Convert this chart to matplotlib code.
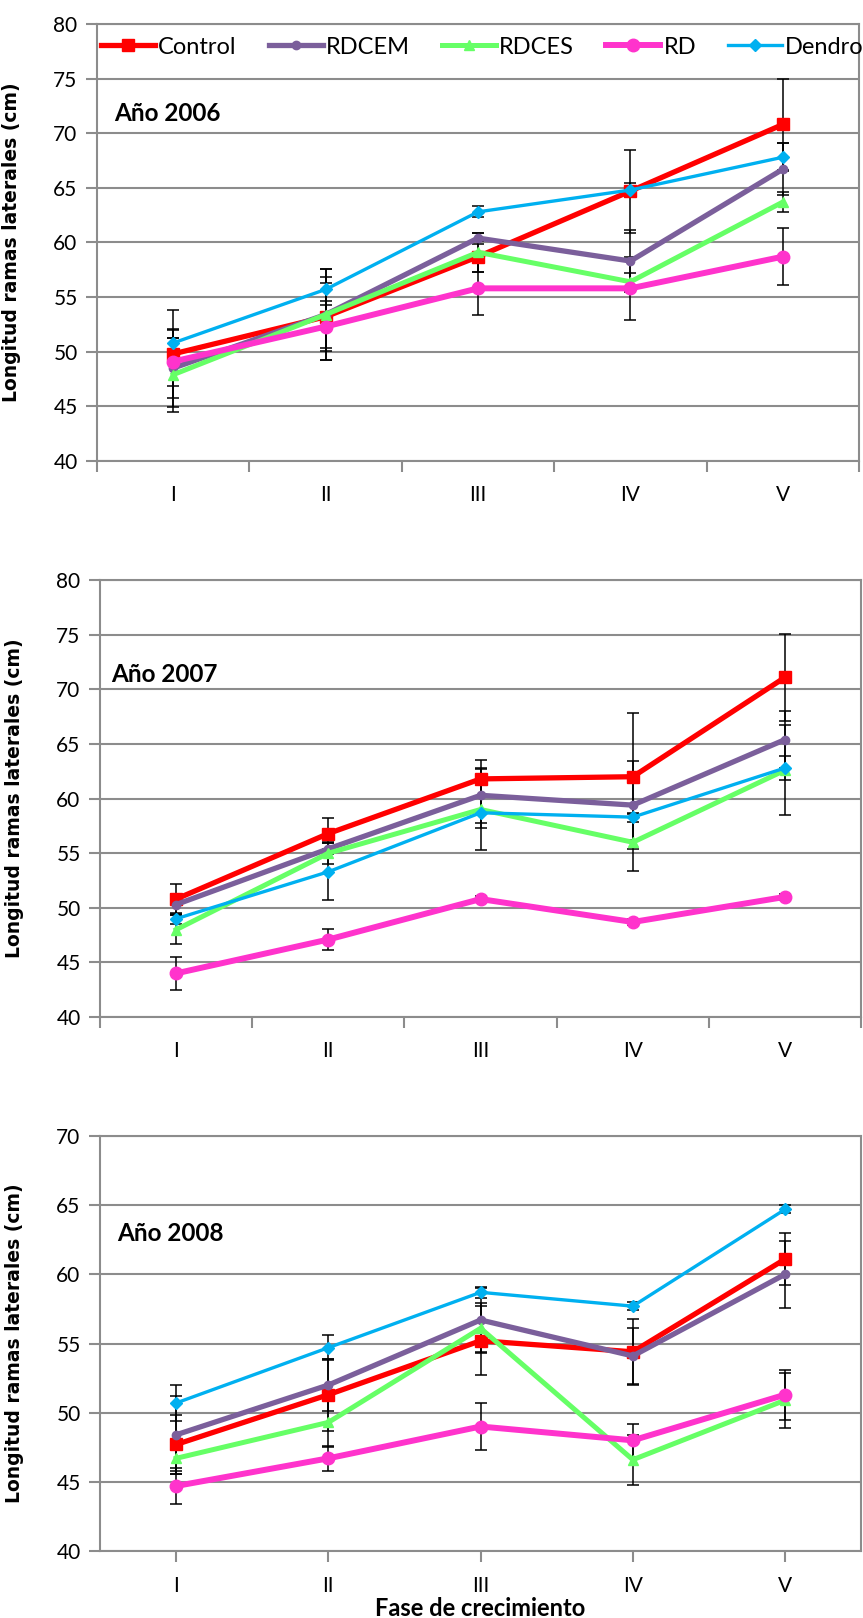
import numpy as np
import matplotlib
matplotlib.use("Agg")
import matplotlib.pyplot as plt

# Datos
fases = ['I', 'II', 'III', 'IV', 'V']
series = ['Control', 'RDCEM', 'RDCES', 'RD', 'Dendro']

# Año 2006
control_06 = [49.8, 53.2, 58.7, 64.7, 70.8]
rdcem_06 = [48.5, 53.4, 60.4, 58.3, 66.7]
rdces_06 = [47.9, 53.4, 59.1, 56.4, 63.7]
rd_06 = [49.1, 52.3, 55.8, 55.8, 58.7]
dendro_06 = [50.8, 55.7, 62.8, 64.8, 67.8]
err_control_06 = [4.0, 3.1, 1.4, 3.8, 4.2]
err_rdcem_06 = [3.6, 4.2, 0.5, 2.8, 2.4]
err_rdces_06 = [3.4, 4.2, 1.8, 0.8, 0.9]
err_rd_06 = [2.2, 2.0, 2.4, 2.9, 2.6]
err_dendro_06 = [1.2, 1.1, 0.5, 0.6, 1.3]

# Año 2007
control_07 = [50.8, 56.8, 61.8, 62.0, 71.1]
rdcem_07 = [50.3, 55.4, 60.3, 59.4, 65.4]
rdces_07 = [48.0, 55.0, 59.0, 56.0, 62.6]
rd_07 = [44.0, 47.1, 50.8, 48.7, 51.0]
dendro_07 = [49.0, 53.3, 58.7, 58.3, 62.8]
err_control_07 = [1.4, 1.4, 1.7, 5.8, 4.0]
err_rdcem_07 = [1.0, 0.5, 2.5, 4.0, 2.6]
err_rdces_07 = [1.3, 1.0, 3.7, 2.6, 4.1]
err_rd_07 = [1.5, 1.0, 0.3, 0.3, 0.3]
err_dendro_07 = [0.5, 2.6, 1.4, 0.4, 1.1]

# Año 2008
control_08 = [47.7, 51.3, 55.2, 54.4, 61.1]
rdcem_08 = [48.4, 52.0, 56.7, 54.1, 60.0]
rdces_08 = [46.7, 49.3, 56.1, 46.6, 50.9]
rd_08 = [44.7, 46.7, 49.0, 48.0, 51.3]
dendro_08 = [50.7, 54.7, 58.7, 57.7, 64.7]
err_control_08 = [2.1, 2.6, 2.5, 2.4, 1.9]
err_rdcem_08 = [2.8, 1.9, 2.3, 2.0, 2.4]
err_rdces_08 = [0.9, 1.8, 1.8, 1.8, 2.0]
err_rd_08 = [1.3, 0.9, 1.7, 1.2, 1.8]
err_dendro_08 = [1.3, 0.9, 0.4, 0.3, 0.3]

colores = ['#FF0000', '#7B5F9B', '#66FF66', '#FF33CC', '#00B0F0']
marcadores = ['s', 'o', '^', 'o', 'D']
tam_marca = [9, 6, 7.5, 9, 6]
grosor = [3.8, 3.8, 3.6, 4.3, 2.4]

gris = '#8C8C8C'
fuente = 'Lato'

fig = plt.figure(figsize=(8.63, 16.18), dpi=100)

paneles = [
    ([control_06, rdcem_06, rdces_06, rd_06, dendro_06],
     [err_control_06, err_rdcem_06, err_rdces_06, err_rd_06, err_dendro_06],
     'Año 2006', [0.1124, 0.7151, 0.883, 0.2701], (40, 80), (0.022, 0.796), False),
    ([control_07, rdcem_07, rdces_07, rd_07, dendro_07],
     [err_control_07, err_rdcem_07, err_rdces_07, err_rd_07, err_dendro_07],
     'Año 2007', [0.1159, 0.3714, 0.882, 0.2701], (40, 80), (0.014, 0.783), False),
    ([control_08, rdcem_08, rdces_08, rd_08, dendro_08],
     [err_control_08, err_rdcem_08, err_rdces_08, err_rd_08, err_dendro_08],
     'Año 2008', [0.1159, 0.0414, 0.882, 0.2565], (40, 70), (0.022, 0.764), True),
]

x = np.arange(len(fases))

for i, (datos, errores, titulo, pos, ylim, txtpos, ticks_centro) in enumerate(paneles):
    ax = fig.add_axes(pos)
    # barras de error primero
    for d, e in zip(datos, errores):
        ax.errorbar(x, d, yerr=e, fmt='none', ecolor='black', elinewidth=1.1,
                    capsize=4.5, capthick=1.1, zorder=2)
    for d, s, c, m, ms, lw in zip(datos, series, colores, marcadores, tam_marca, grosor):
        ax.plot(x, d, color=c, marker=m, markersize=ms, linewidth=lw,
                label=s, zorder=3)

    ax.set_xlim(-0.5, 4.5)
    ax.set_ylim(*ylim)
    ax.set_yticks(np.arange(ylim[0], ylim[1] + 1, 5))
    ax.yaxis.grid(True, color=gris, linewidth=1.5)
    ax.set_axisbelow(True)
    for sp in ax.spines.values():
        sp.set_color(gris)
        sp.set_linewidth(1.5)

    if ticks_centro:
        ax.set_xticks(x)
        ax.set_xticklabels(fases)
        ax.tick_params(axis='x', length=8, width=1.5, color=gris, pad=10)
    else:
        ax.set_xticks(np.arange(-0.5, 5, 1))
        ax.set_xticklabels([])
        ax.set_xticks(x, minor=True)
        ax.set_xticklabels(fases, minor=True)
        ax.tick_params(axis='x', which='major', length=8, width=1.5, color=gris)
        ax.tick_params(axis='x', which='minor', length=0, pad=17)
    ax.tick_params(axis='y', length=8, width=1.5, color=gris, pad=6)
    for lab in ax.get_xticklabels(which='both') + ax.get_yticklabels():
        lab.set_fontfamily(fuente)
        lab.set_fontsize(15)

    ax.set_ylabel('Longitud ramas laterales (cm)', fontsize=13.5,
                  fontweight='bold', family='DejaVu Sans')
    ax.yaxis.set_label_coords(-0.1, 0.5)

    ax.text(txtpos[0], txtpos[1], titulo, transform=ax.transAxes,
            fontsize=17.5, fontweight='bold', family=fuente, va='center')

    if i == 0:
        ax.legend(loc='center left', bbox_to_anchor=(0.005, 0.947), ncol=5,
                  frameon=False, prop={'family': fuente, 'size': 17},
                  handlelength=2.3, handletextpad=0.13, columnspacing=1.35,
                  borderpad=0, borderaxespad=0)
    if i == 2:
        ax.set_xlabel('Fase de crecimiento', fontsize=17, fontweight='bold',
                      family=fuente, labelpad=1)

fig.savefig('out.png', dpi=100)
